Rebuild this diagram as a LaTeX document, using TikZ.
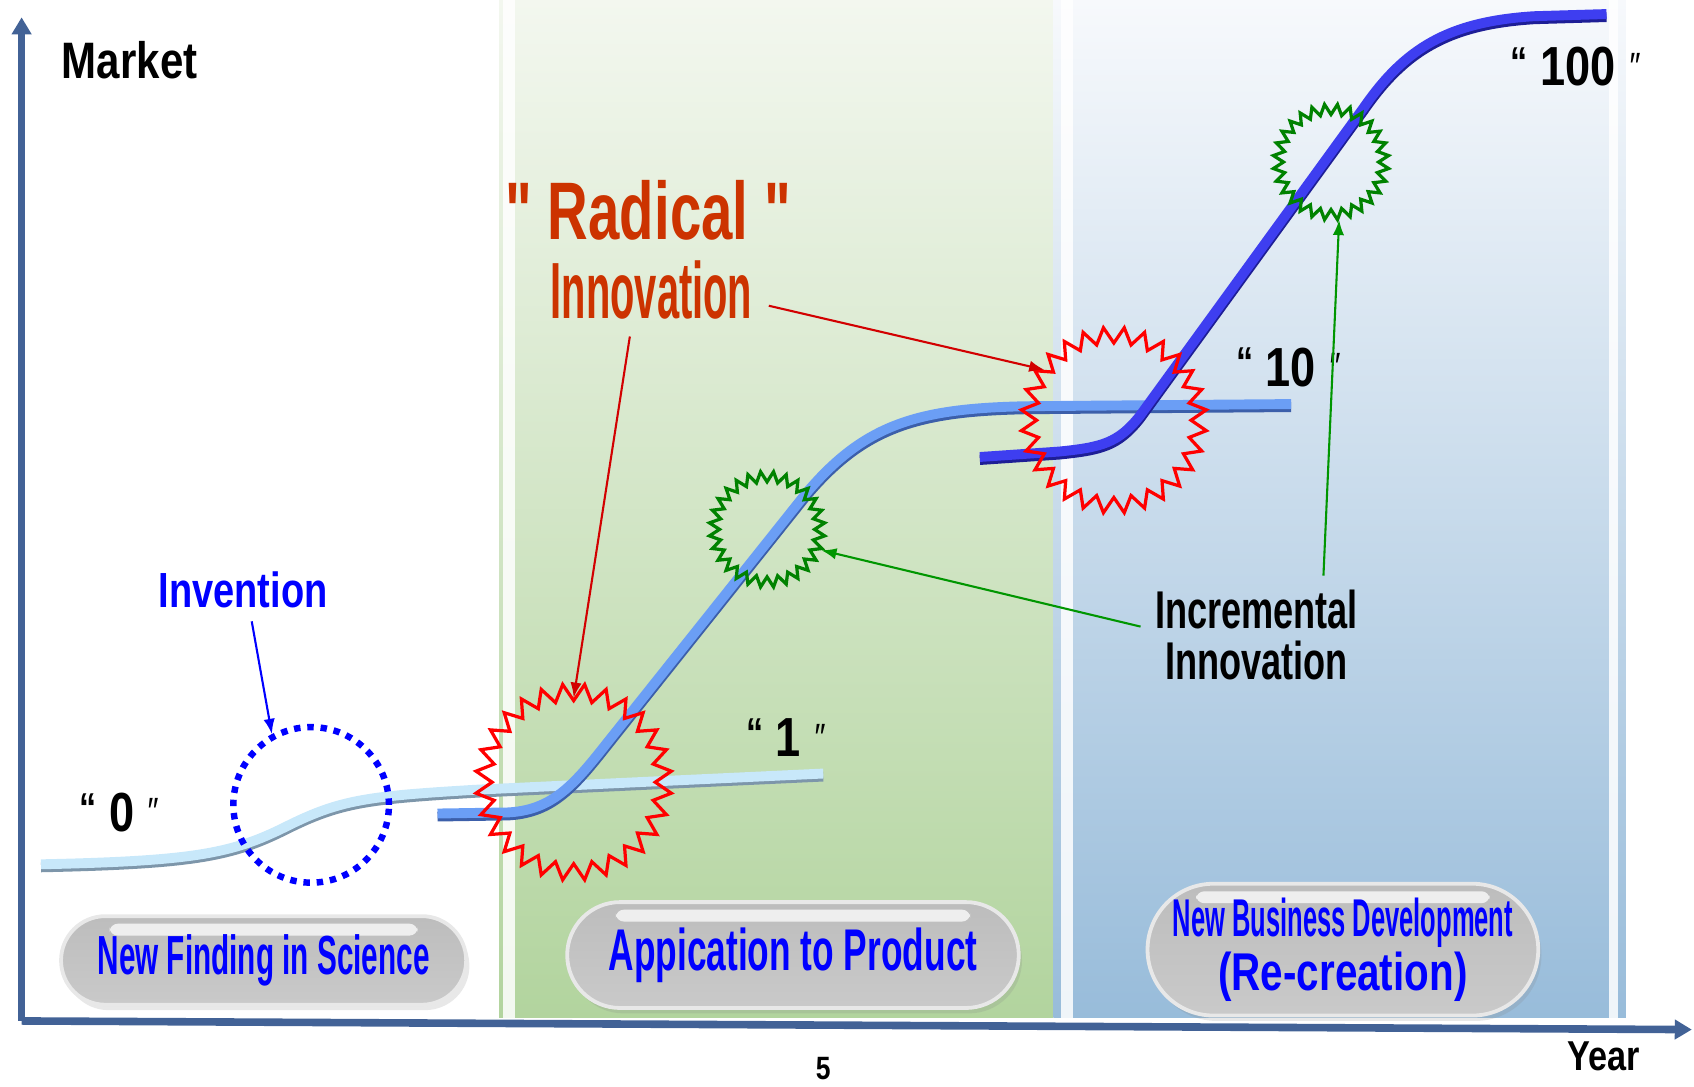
\documentclass[tikz,border=0pt]{standalone}
\usepackage{fontspec}
\setmainfont{Liberation Sans}
\newfontfamily\narrowfont[FakeStretch=0.82]{Liberation Sans}
\newfontfamily\invfont[FakeStretch=0.77]{Liberation Sans}
\newfontfamily\radfont[FakeStretch=0.69]{Liberation Sans}
\newfontfamily\innfont[FakeStretch=0.5]{Liberation Sans}
\newfontfamily\incfont[FakeStretch=0.68]{Liberation Sans}
\newfontfamily\sciencefont[FakeStretch=0.54]{Liberation Sans}
\newfontfamily\productfont[FakeStretch=0.6]{Liberation Sans}
\newfontfamily\businessfont[FakeStretch=0.48]{Liberation Sans}
\newfontfamily\recreatefont[FakeStretch=0.76]{Liberation Sans}
\usepackage{tikz}
\usetikzlibrary{shapes.geometric,shapes.misc,arrows.meta,shadows}
\definecolor{axisblue}{RGB}{66,98,150}
\definecolor{radred}{RGB}{204,51,0}
\definecolor{greentop}{RGB}{243,247,239}
\definecolor{greenbot}{RGB}{178,212,158}
\definecolor{bluetop}{RGB}{247,249,252}
\definecolor{bluebot}{RGB}{152,188,218}
\definecolor{zerotop}{RGB}{200,232,250}
\definecolor{zerobot}{RGB}{125,150,170}
\definecolor{onetop}{RGB}{107,158,245}
\definecolor{onebot}{RGB}{60,95,170}
\definecolor{tentop}{RGB}{62,62,240}
\definecolor{tenbot}{RGB}{30,30,150}
\definecolor{burstgreen}{RGB}{0,130,0}
\definecolor{arrowred}{RGB}{210,0,0}
\definecolor{arrowgreen}{RGB}{0,150,0}
\newcommand\oq{\raisebox{.17em}{\fontsize{22}{22}\selectfont “}}
\newcommand\cq{\raisebox{.12em}{\fontsize{20}{20}\selectfont\mdseries\itshape ″}}
\tikzset{>={Latex[length=8pt,width=6pt]}}

\begin{document}
\begin{tikzpicture}
                [x=0.2mm,y=-0.2mm,every node/.style={inner sep=0pt},
                 tube/.style 2 args={draw=#2,line width=5.2pt,preaction={draw=#1,line width=5.2pt,transform canvas={yshift=-1.6pt}}},
                 redburst/.style={star,star points=28,star point ratio=0.83,draw=red,line width=1.7pt},
                 greenburst/.style={star,star points=28,star point ratio=0.82,draw=burstgreen,line width=1.7pt,minimum size=17.6mm},
                 dotring/.style={circle,draw=blue,line width=3.4pt,dash pattern=on 3.4pt off 3.6pt,minimum size=28.8mm},
                 numlabel/.style={font=\narrowfont\bfseries\fontsize{29}{29}\selectfont},
                 pill/.style={rounded rectangle,draw=gray!18,line width=2pt,top color=gray!52,middle color=gray!5,bottom color=gray!42,
                   drop shadow={opacity=.18,shadow xshift=.6mm,shadow yshift=-1mm},text=blue,
                   path picture={\fill[white,opacity=.75,rounded corners=1.5mm] ([xshift=9mm,yshift=-1.4mm]path picture bounding box.north west) rectangle ([xshift=-9mm,yshift=-3.6mm]path picture bounding box.north east);}},
                 axis/.style={draw=axisblue,line width=4pt,-{Triangle[width=10pt,length=9pt]}}]
                \useasboundingbox (0,0) rectangle (1568,1006);

                \shade[top color=greentop,bottom color=greenbot] (462,0) rectangle (975,942);
                \shade[top color=bluetop,bottom color=bluebot] (975,0) rectangle (1505,942);
                \fill[white,opacity=.85] (466,0) rectangle (477,942);
                \fill[white,opacity=.85] (982,0) rectangle (993,942);
                \fill[white,opacity=.85] (1489,0) rectangle (1498,942);

                \draw[tube={zerobot}{zerotop}] (38,800) .. controls (180,797) and (215,790) .. (265,765)
                    .. controls (315,740) and (340,737) .. (440,731) -- (762,716);
                \draw[tube={onebot}{onetop}] (405,753) -- (470,752) .. controls (510,750) and (530,728) .. (560,690)
                    -- (745,458) .. controls (800,392) and (850,378) .. (950,376) -- (1195,374);
                \draw[tube={tenbot}{tentop}] (907,423) -- (980,418) .. controls (1020,414) and (1035,410) .. (1055,385)
                    -- (1262,100) .. controls (1300,45) and (1340,20) .. (1420,15) -- (1487,13);

                \node[redburst,minimum size=30.2mm] (rs1) at (531,724) {};
                \node[redburst,minimum size=28.6mm] (rs2) at (1031,389) {};
                \node[greenburst] (gs1) at (710,490) {};
                \node[greenburst] (gs2) at (1232,150) {};
                \node[dotring] (ring) at (288,745) {};

                \node[font=\narrowfont\bfseries\fontsize{27}{27}\selectfont] (market) at (120,56) {Market};
                \node[font=\narrowfont\bfseries\fontsize{22}{22}\selectfont] (year) at (1484,978) {Year};
                \node[font=\narrowfont\bfseries\fontsize{17}{17}\selectfont] (page) at (762,989) {5};

                \node[font=\invfont\bfseries\fontsize{26}{26}\selectfont,text=blue] (inv) at (225,546) {Invention};
                \node[font=\radfont\bfseries\fontsize{43}{43}\selectfont,text=radred] (radical) at (600,195) {" Radical "};
                \node[font=\innfont\bfseries\fontsize{42}{42}\selectfont,text=radred] (innov) at (603,268) {Innovation};
                \node[font=\incfont\bfseries\fontsize{28}{27}\selectfont,align=center] (incr) at (1163,588) {Incremental\\Innovation};

                \node[numlabel] (n0) at (110,752) {\oq\ 0\ \cq};
                \node[numlabel] (n1) at (727,683) {\oq\ 1\ \cq};
                \node[numlabel] (n10) at (1192,340) {\oq\ 10\ \cq};
                \node[numlabel] (n100) at (1458,62) {\oq\ 100\ \cq};

                \node[pill,minimum width=75mm,minimum height=16.4mm,font=\sciencefont\bfseries\fontsize{29}{29}\selectfont] (science) at (244,889) {New Finding in Science};
                \node[pill,minimum width=83.6mm,minimum height=19.6mm,font=\productfont\bfseries\fontsize{31}{31}\selectfont] (product) at (734,884) {Appication to Product};
                \node[pill,minimum width=72mm,minimum height=24.4mm,align=center,font=\bfseries\fontsize{28}{28.5}\selectfont] (business) at (1243,879)
                    {{\businessfont New Business Development}\\{\recreatefont (Re-creation)}};

                \draw[->,blue,line width=1.1pt] ([xshift=1.6mm,yshift=-2.4mm]inv.south) -- (ring.119);
                \draw[->,arrowred,line width=1.1pt] ([xshift=-4mm,yshift=-3.2mm]innov.south) -- (rs1.north);
                \draw[->,arrowred,line width=1.1pt] ([xshift=3mm,yshift=-3mm]innov.east) -- (rs2.144);
                \draw[->,arrowgreen,line width=1.1pt] ([xshift=-2.6mm,yshift=1.6mm]incr.west) -- (gs1.-21);
                \draw[->,arrowgreen,line width=1.1pt] ([xshift=12.4mm,yshift=2.6mm]incr.north) -- (gs2.-82);

                \draw[axis] (20,945) -- (20,16);
                \draw[axis] (20,945) -- (1566,953);
            \end{tikzpicture}
\end{document}
